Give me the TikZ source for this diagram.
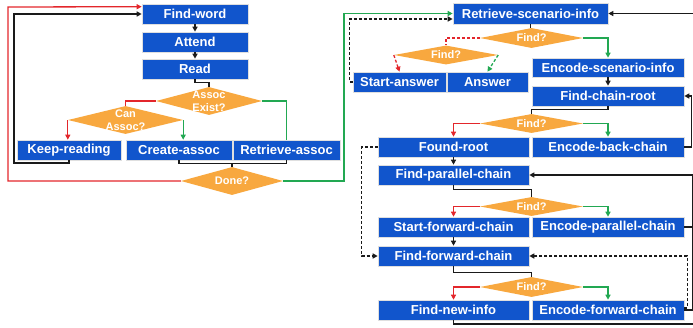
\documentclass[tikz,border=0pt]{standalone}
\usepackage{fontspec}
\setmainfont{Liberation Sans}
\usetikzlibrary{shapes.geometric,arrows.meta,calc}
\definecolor{boxblue}{HTML}{1155CC}
\definecolor{diaorange}{HTML}{F8A83F}
\definecolor{lred}{HTML}{E3262B}
\definecolor{lgreen}{HTML}{22A852}
\definecolor{lblack}{HTML}{1A1A1A}
\tikzset{
  box/.style={rectangle, fill=boxblue, draw=white!75!gray, line width=0.6pt,
    text=white, font=\bfseries\fontsize{13}{14}\selectfont, inner sep=0pt},
  dia/.style={diamond, fill=diaorange, draw=none, inner sep=0pt, aspect=3},
  diatxt/.style={text=white, font=\bfseries\fontsize{11}{13}\selectfont, align=center, inner sep=0pt},
  conn/.style={draw=lblack, line width=1.3pt},
  rconn/.style={draw=lred, line width=1.3pt},
  gconn/.style={draw=lgreen, line width=1.3pt},
  dsh/.style={dash pattern=on 3pt off 2pt},
  tip/.style={-{Triangle[length=5pt,width=5pt]}},
}
\begin{document}
\begin{tikzpicture}[x=1pt,y=-1pt]
\useasboundingbox (0,0) rectangle (693,327);
% ---------- left part ----------
\node[box, minimum width=106pt, minimum height=20pt] (fw) at (195,14) {Find-word};
\node[box, minimum width=106pt, minimum height=20pt] (at) at (195,42) {Attend};
\node[box, minimum width=106pt, minimum height=20pt] (rd) at (195,69) {Read};
\node[dia, minimum width=106pt, minimum height=28pt] (dae) at (209,101) {};
\node[diatxt] (daet) at (209,101) {Assoc\\Exist?};
\node[dia, minimum width=115pt, minimum height=28pt] (dca) at (125.5,120) {};
\node[diatxt] (dcat) at (125.5,120) {Can\\Assoc?};
\node[box, minimum width=104pt, minimum height=20pt] (kr) at (69,150) {Keep-reading};
\node[box, minimum width=106pt, minimum height=20pt] (ca) at (179,150) {Create-assoc};
\node[box, minimum width=107pt, minimum height=20pt] (ra) at (286.5,150) {Retrieve-assoc};
\node[dia, minimum width=102pt, minimum height=28pt] (ddone) at (232,181) {};
\node[diatxt] (ddonet) at (232,181) {Done?};
% ---------- right part ----------
\node[box, minimum width=155pt, minimum height=21pt] (rsi) at (530.5,13.5) {Retrieve-scenario-info};
\node[dia, minimum width=103pt, minimum height=20pt] (f1) at (531.5,38) {};
\node[diatxt] (f1t) at (531.5,38) {Find?};
\node[dia, minimum width=104pt, minimum height=19pt] (f2) at (446,55) {};
\node[diatxt] (f2t) at (446,55) {Find?};
\node[box, minimum width=93pt, minimum height=20pt] (sa) at (399.5,82) {Start-answer};
\node[box, minimum width=81pt, minimum height=20pt] (an) at (487.5,82) {Answer};
\node[box, minimum width=152pt, minimum height=19pt] (esi) at (608,67.5) {Encode-scenario-info};
\node[box, minimum width=152pt, minimum height=20pt] (fcr) at (608,96) {Find-chain-root};
\node[dia, minimum width=103pt, minimum height=19pt] (f3) at (531.5,123.5) {};
\node[diatxt] (f3t) at (531.5,123.5) {Find?};
\node[box, minimum width=151pt, minimum height=20pt] (fr) at (453.5,147) {Found-root};
\node[box, minimum width=152pt, minimum height=20pt] (ebc) at (608,147) {Encode-back-chain};
\node[box, minimum width=151pt, minimum height=20pt] (fpc) at (453.5,175) {Find-parallel-chain};
\node[dia, minimum width=103pt, minimum height=19pt] (f4) at (531.5,206.5) {};
\node[diatxt] (f4t) at (531.5,206.5) {Find?};
\node[box, minimum width=151pt, minimum height=20pt] (sfc) at (453.5,227) {Start-forward-chain};
\node[box, minimum width=152pt, minimum height=20pt] (epc) at (608,227) {Encode-parallel-chain};
\node[box, minimum width=151pt, minimum height=20pt] (ffc) at (453.5,256) {Find-forward-chain};
\node[dia, minimum width=103pt, minimum height=20pt] (f5) at (531.5,287) {};
\node[diatxt] (f5t) at (531.5,287) {Find?};
\node[box, minimum width=151pt, minimum height=20pt] (fni) at (453.5,310) {Find-new-info};
\node[box, minimum width=152pt, minimum height=20pt] (efc) at (608,310) {Encode-forward-chain};
% ---------- left connectors ----------
\draw[conn,tip] (fw.south) -- (at.north);
\draw[conn,tip] (at.south) -- (rd.north);
\draw[conn] (rd.south) -- ++(0,3) -| (dae.north);
\draw[rconn] (dae.west) -| (dca.north);
\draw[gconn] (dae.east) -| (ra.north);
\draw[rconn,tip] (dca.west) -- (dca.west |- kr.north);
\draw[gconn,tip] (dca.east) -- (dca.east |- ca.north);
\draw[conn,tip] (kr.south) |- (14,163) |- (fw.west);
\draw[conn] (ca.south) -- ++(0,3) -| (ra.south);
\draw[conn] (ddone.north) -- ++(0,-4);
\draw[rconn,tip] (ddone.west) -| (8,7) -- ($(fw.north west)+(0,3)$);
\draw[gconn,tip] (ddone.east) -| (344,13.5) -- (rsi.west);
% ---------- right connectors ----------
\draw[conn] (rsi.south) -- (rsi.south |- f1.north);
\draw[gconn,tip] (f1.east) -| (esi.north);
\draw[rconn,dsh] (f1.west) -| (f2.north);
\draw[rconn,dsh,tip] (f2.west) -- (sa.north);
\draw[gconn,dsh,tip] (f2.east) -- (an.north);
\draw[conn,dsh,tip] (sa.west) -- ++(-3,0) |- ($(rsi.west)+(0,5.5)$);
\draw[conn,tip] (esi.south) -- (fcr.north);
\draw[conn] (fcr.south) -- ++(0,3) -| (f3.north);
\draw[rconn,tip] (f3.west) -| (fr.north);
\draw[gconn,tip] (f3.east) -| (ebc.north);
\draw[conn,tip] (ebc.east) -- ++(7,0) |- (fcr.east);
\draw[conn,tip] (fr.south) -- (fpc.north);
\draw[conn] (fpc.south) -- ++(0,4) -| (f4.north);
\draw[rconn,tip] (f4.west) -| (sfc.north);
\draw[gconn,tip] (f4.east) -| (epc.north);
\draw[conn,tip] (sfc.south) -- (ffc.north);
\draw[conn] (ffc.south) -- ++(0,6) -| (f5.north);
\draw[rconn,tip] (f5.west) -| (fni.north);
\draw[gconn,tip] (f5.east) -| (efc.north);
\draw[conn,dsh,tip] (fr.west) -- ++(-16,0) |- (ffc.west);
\draw[conn,dsh,tip] ($(efc.east)+(0,-2)$) -- ++(3,0) |- (ffc.east);
\draw[conn] (epc.east) -- (692.6,227);
\draw[conn,tip] (efc.east) -- (692.6,310) |- (fpc.east);
\draw[conn,tip] (fni.south) |- (698,324) |- (rsi.east);
\end{tikzpicture}
\end{document}
